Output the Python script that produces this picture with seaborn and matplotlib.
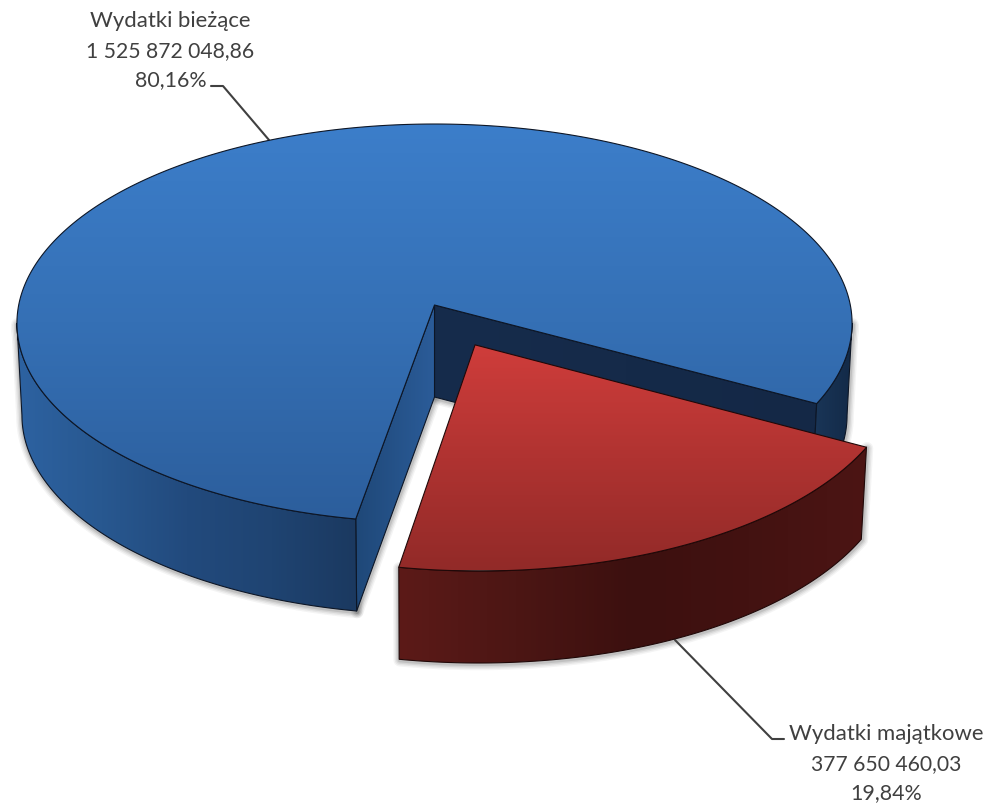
import numpy as np
import matplotlib
matplotlib.use('Agg')
import matplotlib.pyplot as plt
from matplotlib.patches import Polygon
import seaborn as sns

# Chart data
categories = ['Wydatki majątkowe', 'Wydatki bieżące']
values = [377650460.03, 1525872048.86]
value_labels = ['377 650 460,03', '1 525 872 048,86']

sns.set_theme(style='white')
plt.rcParams['font.family'] = ['Lato', 'DejaVu Sans']

# Projection of the pie plane onto the picture (pixel coordinates)
cx, cy = 434.5, 305.0
rx, ry = 415.8, 197.6
persp = 0.0918
depth = 92.0
shrink = 0.988
start_angle = 28.5
explode = 0.22

shares = np.array(values) / sum(values)
spans = shares * 360
red_a0, red_a1 = start_angle, start_angle + spans[0]
blue_a0, blue_a1 = red_a1, red_a1 + spans[1]
mid = np.radians((red_a0 + red_a1) / 2)
shift = (explode * np.cos(mid), explode * np.sin(mid))
# angle where the projected rim is widest
widest = np.degrees(np.arcsin(persp))


def project(px, py):
    w = 1 - persp * py
    return cx + rx * px / w, cy + ry * py / w


def rim(a0, a1, offset=(0, 0), n=200):
    a = np.radians(np.linspace(a0, a1, n))
    x, y = project(np.cos(a) + offset[0], np.sin(a) + offset[1])
    return np.column_stack([x, y])


def lower(pts):
    out = np.array(pts, dtype=float)
    out[:, 0] = cx + (out[:, 0] - cx) * shrink
    out[:, 1] = out[:, 1] + depth
    return out


def band(upper):
    return np.vstack([upper, lower(upper)[::-1]])


fig = plt.figure(figsize=(9.91, 8.06), dpi=100)
ax = fig.add_axes([0, 0, 1, 1])
z = [2]


def shade(pts, colors, vertical=True, span=None, edge='#0d1626', lw=0.8):
    pts = np.asarray(pts)
    cmap = sns.blend_palette(colors, n_colors=256, as_cmap=True)
    grad = np.linspace(0, 1, 256)
    grad = grad.reshape(-1, 1) if vertical else grad.reshape(1, -1)
    if vertical:
        lo, hi = span if span else (pts[:, 1].min(), pts[:, 1].max())
        extent = (pts[:, 0].min(), pts[:, 0].max(), hi, lo)
    else:
        lo, hi = span if span else (pts[:, 0].min(), pts[:, 0].max())
        extent = (lo, hi, pts[:, 1].max(), pts[:, 1].min())
    z[0] += 1
    im = ax.imshow(grad, cmap=cmap, extent=extent, aspect='auto', zorder=z[0], interpolation='bilinear')
    clip = Polygon(pts, closed=True, transform=ax.transData)
    im.set_clip_path(clip)
    z[0] += 1
    ax.add_patch(Polygon(pts, closed=True, fc='none', ec=edge, lw=lw, zorder=z[0], joinstyle='round'))


def soft_shadow(pts):
    for lw, al in zip([9, 7, 5, 3], [0.05, 0.07, 0.09, 0.12]):
        ax.add_patch(Polygon(np.asarray(pts) + [0.5, 1.0], closed=True, fc='none', ec='#303030',
                             lw=lw, alpha=al, zorder=1, joinstyle='round'))


# Blue slice pieces
apex = np.array([project(0, 0)])
blue_side_left = band(rim(blue_a0, 180 - widest))
blue_side_right = band(rim(widest, red_a0))
blue_end = rim(blue_a0, blue_a0, n=1)
blue_start = rim(red_a0, red_a0, n=1)
wall_left = band(np.vstack([apex, blue_end]))
wall_back = band(np.vstack([apex, blue_start]))
blue_top = np.vstack([apex, rim(blue_a0, blue_a1, n=500)])

# Red slice pieces
red_apex = np.array([project(*shift)])
red_rim = rim(red_a0, red_a1, offset=shift)
red_side = band(red_rim)
red_top = np.vstack([red_apex, red_rim])

for part in [blue_side_left, blue_side_right, wall_left, wall_back, red_side]:
    soft_shadow(part)

shade(wall_back, ['#162c4c', '#142846'], vertical=False)
shade(blue_side_right, ['#1a3658', '#132a48'], vertical=False)
shade(wall_left, ['#1f4878', '#2b5c99'], vertical=False)
shade(blue_side_left, ['#2d62a1', '#285890', '#224a7d', '#1f4472', '#1b3960'], vertical=False)
shade(blue_top, ['#3c7eca', '#3570b5', '#2c5e9c'], span=(124, 520))
shade(red_side, ['#5c1a18', '#4c1614', '#3c100f', '#431211', '#4c1514'], vertical=False, edge='#200808')
shade(red_top, ['#cf3d3b', '#b03331', '#922a28'], span=(345, 570), edge='#200808')

# Leader lines
ax.plot([211, 223, 269], [86, 86, 140], color='#404040', lw=1.5, zorder=1)
ax.plot([675, 772, 784], [640, 739, 739], color='#404040', lw=1.5, zorder=1)

# Data labels
text_color = '#404040'
line_sizes = [15.9, 15.2, 15.4]
label_pos = [(886, 740), (170.5, 27)]
for i in range(len(categories)):
    pct = f'{shares[i] * 100:.2f}%'.replace('.', ',')
    tx, ty = label_pos[i]
    for j, line in enumerate([categories[i], value_labels[i], pct]):
        ax.text(tx, ty + j * 29.7, line, ha='center', va='baseline', color=text_color,
                fontsize=line_sizes[j], zorder=50)

ax.set_xlim(0, 991)
ax.set_ylim(806, 0)
ax.axis('off')
fig.savefig('out.png', dpi=100, facecolor='white')
